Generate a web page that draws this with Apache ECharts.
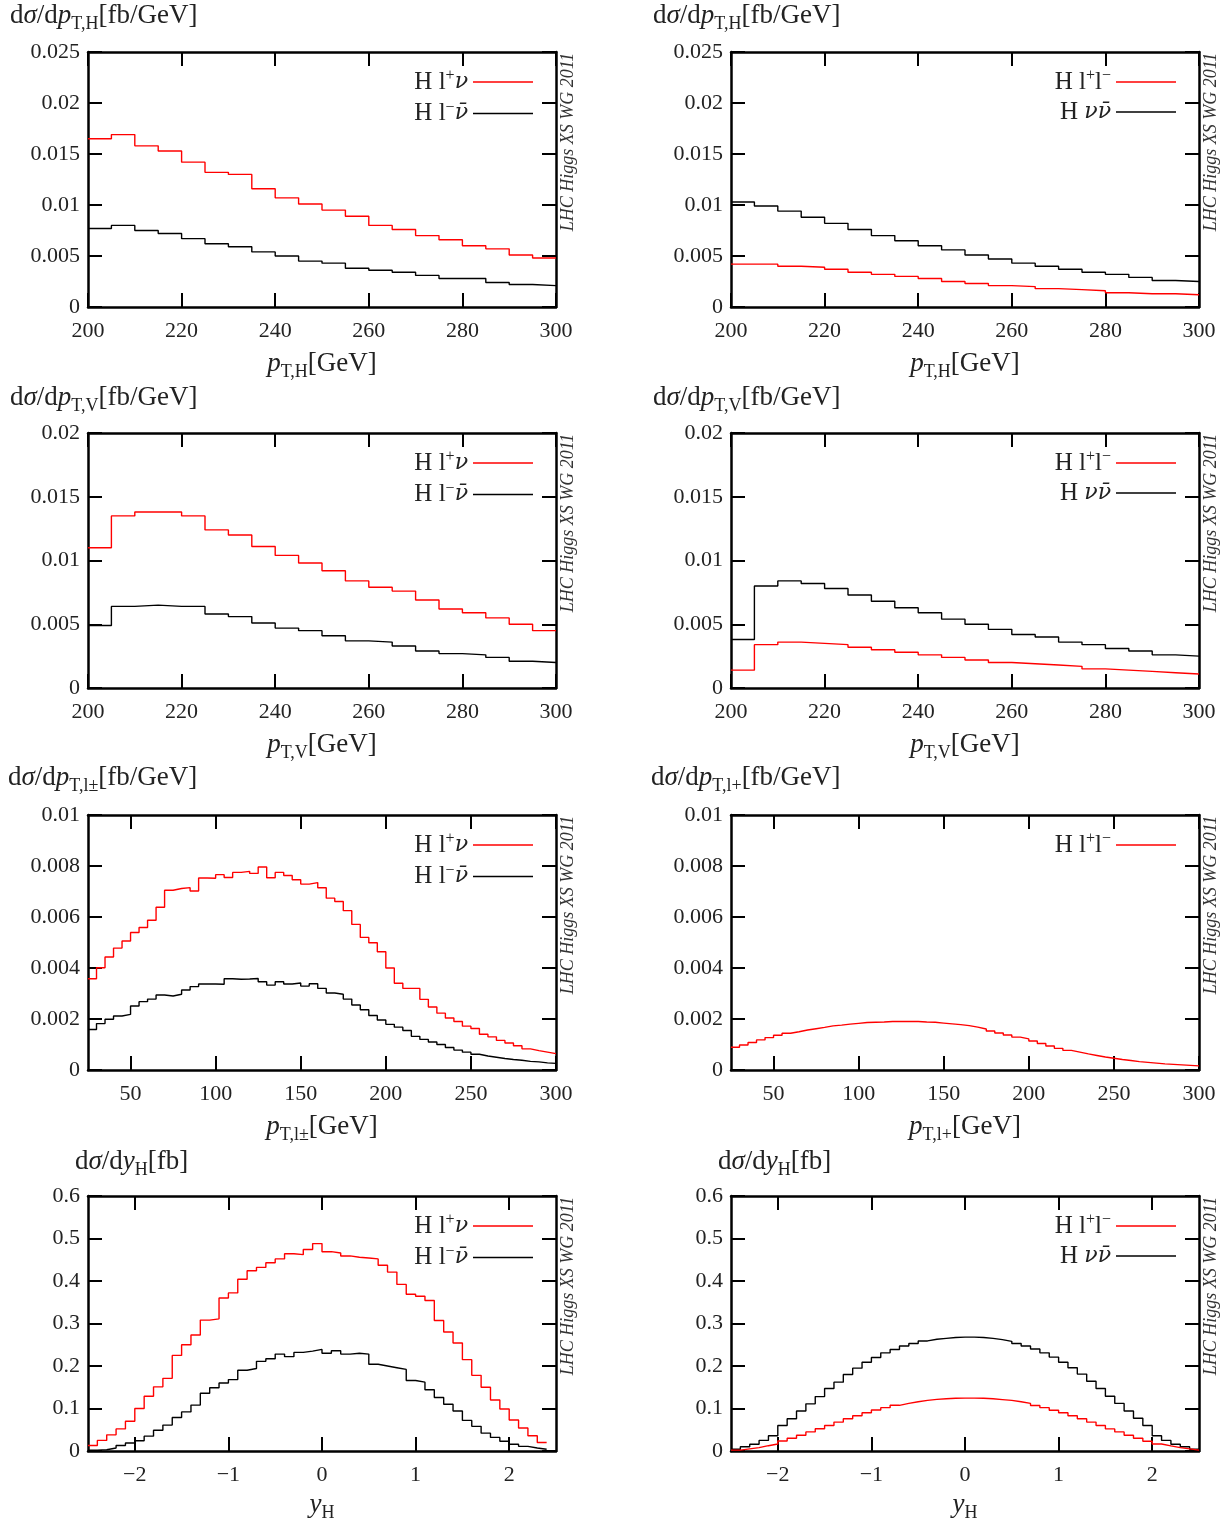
<!DOCTYPE html>
<html><head><meta charset="utf-8">
<script src="https://cdn.jsdelivr.net/npm/echarts@6/dist/echarts.min.js"></script>
<style>html,body{margin:0;padding:0;background:#fff}#c{width:1231px;height:1523px}</style>
</head><body><div id="c"></div>
<script>
// ---------------- DATA ----------------
// Bins: 5 GeV from 200 to 300 (pT,H and pT,V)
const pTH_Hlpnu = [0.0165,0.0169,0.0158,0.0153,0.0142,0.0132,0.0130,0.0116,0.0107,0.0101,0.0095,0.0089,0.0080,0.0076,0.0070,0.0066,0.0060,0.0057,0.0051,0.0048];
const pTH_Hlmnu = [0.0077,0.0080,0.0075,0.0072,0.0067,0.0062,0.0059,0.0054,0.0050,0.0045,0.0043,0.0038,0.0036,0.0034,0.0031,0.0028,0.0028,0.0024,0.0022,0.0021];
const pTH_Hll   = [0.0042,0.0042,0.0040,0.0039,0.0037,0.0034,0.0032,0.0030,0.0028,0.0025,0.0023,0.0021,0.0020,0.0018,0.0017,0.0016,0.0014,0.0013,0.0013,0.0012];
const pTH_Hnunu = [0.0103,0.0099,0.0094,0.0088,0.0082,0.0076,0.0070,0.0065,0.0060,0.0056,0.0051,0.0047,0.0043,0.0040,0.0037,0.0034,0.0032,0.0029,0.0026,0.0025];

const pTV_Hlpnu = [0.0110,0.0135,0.0138,0.0138,0.0135,0.0124,0.0120,0.0111,0.0104,0.0098,0.0092,0.0084,0.0079,0.0076,0.0069,0.0062,0.0059,0.0055,0.0050,0.0045];
const pTV_Hlmnu = [0.0049,0.0064,0.0065,0.0064,0.0064,0.0058,0.0056,0.0051,0.0047,0.0045,0.0041,0.0037,0.0036,0.0033,0.0029,0.0027,0.0026,0.0024,0.0021,0.0020];
const pTV_Hll   = [0.0014,0.0034,0.0036,0.0035,0.0034,0.0032,0.0030,0.0028,0.0026,0.0024,0.0022,0.0020,0.0019,0.0018,0.0017,0.0015,0.0014,0.0013,0.0012,0.0011];
const pTV_Hnunu = [0.0038,0.0080,0.0084,0.0082,0.0078,0.0073,0.0068,0.0063,0.0059,0.0054,0.0050,0.0046,0.0042,0.0040,0.0036,0.0034,0.0031,0.0029,0.0026,0.0025];

// Bins: 5 GeV from 25 to 300 (pT of lepton)
const pTl_Hlpnu = [0.00358,0.00401,0.00443,0.00478,0.00506,0.00539,0.00559,0.00587,0.00638,0.00705,0.00712,0.00715,0.00702,0.00753,0.00752,0.00766,0.00755,0.00775,0.00779,0.00771,0.00796,0.00754,0.00775,0.00763,0.00746,0.00729,0.00735,0.00715,
  0.00674,0.00661,0.00625,0.00571,0.0052,0.00499,0.00464,0.004,0.0034,0.0032,0.0032,0.00277,0.00247,0.00223,0.00204,0.0019,0.00172,0.00163,0.0014,0.0013,0.00116,0.00106,0.00095,0.00083,0.00076,0.0007,0.00064];
const pTl_Hlmnu = [0.00159,0.00182,0.00199,0.00212,0.00218,0.00251,0.00268,0.00278,0.00294,0.0029,0.00297,0.00314,0.00327,0.00337,0.00337,0.00336,0.00358,0.00356,0.00357,0.00359,0.00346,0.00333,0.00346,0.00337,0.00341,0.00329,0.00338,0.0032,
  0.00302,0.00297,0.00278,0.00255,0.00236,0.00214,0.00196,0.00179,0.00168,0.00155,0.00132,0.0012,0.0011,0.001,0.00088,0.00078,0.0007,0.00062,0.00055,0.0005,0.00045,0.00041,0.00038,0.00034,0.00032,0.00028,0.00026];
const pTl_Hll = [0.00089,0.00098,0.00108,0.00118,0.00127,0.00136,0.00144,0.0015,0.00157,0.00162,0.00167,0.00173,0.00176,0.0018,0.00183,0.00186,0.00187,0.00188,0.0019,0.0019,0.0019,0.0019,0.00188,0.00187,0.00184,0.00181,0.00178,0.00174,0.00168,0.00161,0.00153,0.00145,0.00137,
  0.00129,0.00122,0.00114,0.00104,0.00094,0.00085,0.00077,0.0007,0.00063,0.00057,0.00051,0.00046,0.00041,0.00037,0.00033,0.0003,0.00027,0.00024,0.00022,0.0002,0.00018,0.00016];

// Bins: 0.1 in rapidity from -2.5
const yH_Hlpnu = [0.013,0.025,0.038,0.052,0.070,0.100,0.129,0.151,0.171,0.225,0.250,0.273,0.308,0.311,0.360,0.372,0.404,0.424,0.432,0.443,0.452,0.464,0.462,0.474,0.488,
  0.469,0.466,0.459,0.456,0.454,0.452,0.437,0.421,0.392,0.369,0.364,0.354,0.307,0.280,0.254,0.215,0.178,0.150,0.120,0.099,0.073,0.054,0.036,0.020];
const yH_Hlmnu = [0.002,0.003,0.007,0.013,0.019,0.024,0.035,0.049,0.061,0.079,0.092,0.108,0.136,0.149,0.160,0.168,0.190,0.194,0.211,0.217,0.228,0.222,0.232,0.235,0.239,
  0.230,0.236,0.228,0.230,0.228,0.204,0.200,0.196,0.192,0.166,0.162,0.144,0.126,0.110,0.094,0.072,0.058,0.042,0.032,0.023,0.016,0.011,0.007,0.004];
const yH_Hll = [0.002,0.005,0.008,0.0125,0.0165,0.0235,0.030,0.037,0.045,0.0525,0.060,0.068,0.076,0.083,0.090,0.0965,0.102,0.1075,0.112,0.116,0.119,0.1215,0.123,0.124,0.1245,
  0.1245,0.124,0.123,0.121,0.119,0.116,0.112,0.107,0.102,0.096,0.090,0.083,0.076,0.068,0.060,0.052,0.045,0.037,0.030,0.023,0.0165,0.012,0.008,0.005,0.002];
const yH_Hnunu = [0.004,0.010,0.016,0.025,0.036,0.060,0.076,0.094,0.111,0.128,0.147,0.162,0.180,0.195,0.209,0.220,0.231,0.239,0.247,0.253,0.259,0.263,0.265,0.267,0.268,
  0.268,0.267,0.265,0.262,0.258,0.253,0.247,0.240,0.231,0.221,0.209,0.196,0.181,0.164,0.147,0.129,0.112,0.094,0.077,0.060,0.036,0.025,0.016,0.010,0.004];

// tick labels
const ticksPt = [200,220,240,260,280,300];
const ticksPtl = [50,100,150,200,250,300];
const ticksY = [-2,-1,0,1,2];

// ---------------- STYLE ----------------
const FONT = 'Liberation Serif';
const RED = '#ff0000', BLACK = '#000000';
const N_WP = 'Hl+ν', N_WM = 'Hl−ν̄', N_LL = 'Hl+l−', N_NN = 'Hνν̄';
const legendRich = {
  [N_WP]: '{r|H l}{sp|+}{nb|ν}',
  [N_WM]: '{r|H l}{sp|−}{nb|ν̄}',
  [N_LL]: '{r|H l}{sp|+}{r|l}{sp|−}',
  [N_NN]: '{r|H }{nb|νν̄}'
};
const base = {fontFamily: FONT, color: '#222', fontWeight: 'normal'};
const mk = (o) => Object.assign({}, base, o);
const richTitle = {
  r: mk({fontSize: 27, lineHeight: 34}),
  i: mk({fontSize: 27, lineHeight: 34, fontStyle: 'italic'}),
  s: mk({fontSize: 18, lineHeight: 18, verticalAlign: 'bottom'})
};
const richLeg = {
  r: mk({fontSize: 25, lineHeight: 28}),
  nb: mk({fontSize: 22, lineHeight: 28, fontStyle: 'italic', fontFamily: 'DejaVu Serif'}),
  sp: mk({fontSize: 16, lineHeight: 18, verticalAlign: 'top'})
};

function edges(lo, w, n) { const e = []; for (let i = 0; i <= n; i++) e.push(+(lo + i * w).toFixed(4)); return e; }
function stepData(lo, w, vals) {
  const e = edges(lo, w, vals.length);
  const d = vals.map((v, i) => [e[i], v]);
  d.push([e[vals.length], vals[vals.length - 1]]);
  return d;
}

const titlePT = s => `{r|d}{i|σ}{r|/d}{i|p}{s|${s}}{r|[fb/GeV]}`;
const namePT = s => `{i|p}{s|${s}}{r|[GeV]}`;

const panels = [
  {col:0,row:0,xr:[200,300],xt:ticksPt,ymax:0.025,yint:0.005,lo:200,w:5,title:titlePT('T,H'),xname:namePT('T,H'),
   s:[[N_WP,RED,pTH_Hlpnu],[N_WM,BLACK,pTH_Hlmnu]],leg:[N_WP,N_WM]},
  {col:1,row:0,xr:[200,300],xt:ticksPt,ymax:0.025,yint:0.005,lo:200,w:5,title:titlePT('T,H'),xname:namePT('T,H'),
   s:[[N_NN,BLACK,pTH_Hnunu],[N_LL,RED,pTH_Hll]],leg:[N_LL,N_NN]},
  {col:0,row:1,xr:[200,300],xt:ticksPt,ymax:0.02,yint:0.005,lo:200,w:5,title:titlePT('T,V'),xname:namePT('T,V'),
   s:[[N_WP,RED,pTV_Hlpnu],[N_WM,BLACK,pTV_Hlmnu]],leg:[N_WP,N_WM]},
  {col:1,row:1,xr:[200,300],xt:ticksPt,ymax:0.02,yint:0.005,lo:200,w:5,title:titlePT('T,V'),xname:namePT('T,V'),
   s:[[N_NN,BLACK,pTV_Hnunu],[N_LL,RED,pTV_Hll]],leg:[N_LL,N_NN]},
  {col:0,row:2,xr:[25,300],xt:ticksPtl,ymax:0.01,yint:0.002,lo:25,w:5,title:titlePT('T,l±'),xname:namePT('T,l±'),
   s:[[N_WP,RED,pTl_Hlpnu],[N_WM,BLACK,pTl_Hlmnu]],leg:[N_WP,N_WM]},
  {col:1,row:2,xr:[25,300],xt:ticksPtl,ymax:0.01,yint:0.002,lo:25,w:5,title:titlePT('T,l+'),xname:namePT('T,l+'),
   s:[[N_LL,RED,pTl_Hll]],leg:[N_LL]},
  {col:0,row:3,xr:[-2.5,2.5],xt:ticksY,ymax:0.6,yint:0.1,lo:-2.5,w:0.1,title:'{r|d}{i|σ}{r|/d}{i|y}{s|H}{r|[fb]}',xname:'{i|y}{s|H}',rap:true,
   s:[[N_WP,RED,yH_Hlpnu],[N_WM,BLACK,yH_Hlmnu]],leg:[N_WP,N_WM]},
  {col:1,row:3,xr:[-2.5,2.5],xt:ticksY,ymax:0.6,yint:0.1,lo:-2.5,w:0.1,title:'{r|d}{i|σ}{r|/d}{i|y}{s|H}{r|[fb]}',xname:'{i|y}{s|H}',rap:true,
   s:[[N_NN,BLACK,yH_Hnunu],[N_LL,RED,yH_Hll]],leg:[N_LL,N_NN]}
];

const LEFTS = [88, 731], TOPS = [52, 433, 815, 1196], W = 468, H = 255;
const TITLE_POS = [[[10,-1],[653,-1]],[[10,381],[653,381]],[[8,761],[651,761]],[[75,1145],[718,1145]]];

const grid = [], xAxis = [], yAxis = [], series = [], title = [], legend = [], graphic = [];
const axisLine = {show: true, onZero: false, lineStyle: {color: '#000', width: 2.5}};
const tick = {inside: true, length: 14, lineStyle: {color: '#000', width: 2}};
const fmtNum = v => { const s = String(+(+v).toPrecision(6)); return s.replace('-', '−'); };

panels.forEach((p, k) => {
  const left = LEFTS[p.col], top = TOPS[p.row];
  grid.push({left: left, top: top, width: W, height: H, containLabel: false});
  const xb = {gridIndex: k, type: 'value', min: p.xr[0], max: p.xr[1], position: 'bottom',
    axisLine: axisLine, splitLine: {show: false},
    axisTick: Object.assign({customValues: p.xt}, tick),
    axisLabel: {customValues: p.xt, margin: 13, fontFamily: FONT, fontSize: 22, color: '#222', formatter: fmtNum},
    name: p.xname, nameLocation: 'middle', nameGap: p.rap ? 37 : 40,
    nameTextStyle: {rich: richTitle}};
  const xt = {gridIndex: k, type: 'value', min: p.xr[0], max: p.xr[1], position: 'top',
    axisLine: axisLine, splitLine: {show: false}, axisLabel: {show: false},
    axisTick: Object.assign({customValues: p.xt}, tick)};
  xAxis.push(xb, xt);
  const yl = {gridIndex: k, type: 'value', min: 0, max: p.ymax, interval: p.yint, position: 'left',
    axisLine: axisLine, splitLine: {show: false}, axisTick: tick,
    axisLabel: {margin: 8, fontFamily: FONT, fontSize: 22, color: '#222', formatter: fmtNum, showMinLabel: true, showMaxLabel: true}};
  const yr = {gridIndex: k, type: 'value', min: 0, max: p.ymax, interval: p.yint, position: 'right',
    axisLine: axisLine, splitLine: {show: false}, axisTick: tick, axisLabel: {show: false}};
  yAxis.push(yl, yr);
  p.s.forEach(([name, color, vals]) => {
    series.push({type: 'line', name: name, xAxisIndex: 2 * k, yAxisIndex: 2 * k,
      data: stepData(p.lo, p.w, vals), step: 'end', symbol: 'none', showSymbol: false,
      lineStyle: {color: color, width: 1.4}, itemStyle: {color: color}, emphasis: {disabled: true}});
  });
  const tp = TITLE_POS[p.row][p.col];
  title.push({text: p.title, left: tp[0], top: tp[1], padding: 0, textStyle: {rich: richTitle, fontWeight: 'normal'}});
  legend.push({orient: 'vertical', right: 1231 - (left + W - 23), top: top + 16, padding: 0,
    align: 'right', icon: 'rect', itemWidth: 60, itemHeight: 1.5, itemGap: 5, selectedMode: false,
    data: p.leg, formatter: n => legendRich[n], textStyle: {rich: richLeg}});
  graphic.push({type: 'text', x: left + W + 12, y: top + 90, rotation: Math.PI / 2,
    style: {text: 'LHC Higgs XS WG 2011', font: 'italic 18px "Liberation Serif"', fill: '#333',
      align: 'center', verticalAlign: 'middle'}});
});

const chart = echarts.init(document.getElementById('c'), null, {renderer: 'canvas'});
chart.setOption({animation: false, backgroundColor: '#fff', grid, xAxis, yAxis, series, title, legend, graphic});
</script></body></html>
